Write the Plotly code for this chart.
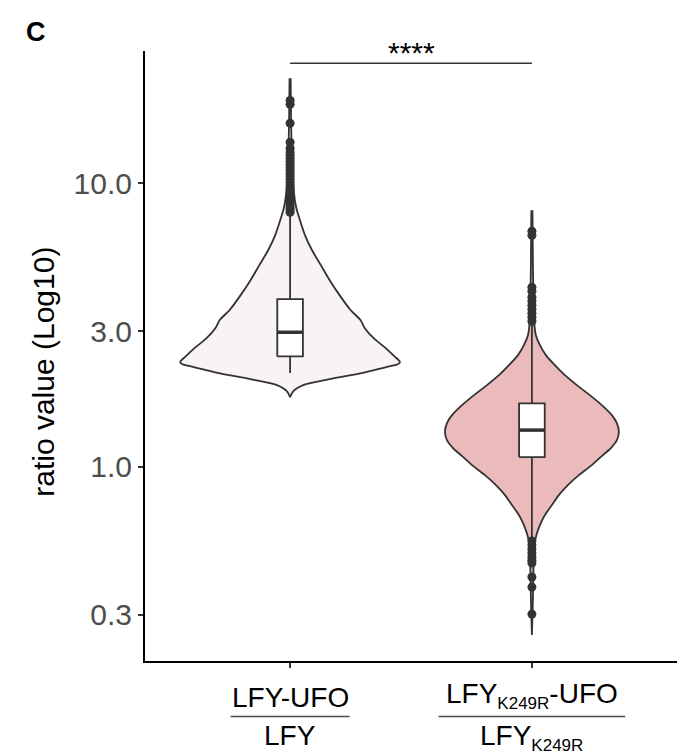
import math
import plotly.graph_objects as go

# ---------------- data ----------------
cat_pos = [1, 2]
SUB = '<sub><span style="font-size:17px">K249R</span></sub>'
numerators = ["LFY-UFO", "LFY" + SUB + "-UFO"]
denominators = ["LFY", "LFY" + SUB]

# violin outlines: value (top -> bottom) and relative density (1 = widest)
v1_values = [23.45, 16.68, 12.05, 9.45, 8.23, 7.40, 6.55, 5.80, 5.14, 4.55, 4.03,
             3.57, 3.29, 3.08, 2.84, 2.62, 2.45, 2.34, 2.30, 2.263, 2.208, 2.138,
             2.036, 1.940, 1.847, 1.760]
v1_density = [0.005, 0.009, 0.018, 0.032, 0.055, 0.09, 0.136, 0.2, 0.28, 0.36, 0.45,
              0.55, 0.64, 0.68, 0.76, 0.87, 0.95, 1.0, 0.98, 0.91, 0.80, 0.65,
              0.36, 0.12, 0.03, 0.0]

v2_values = [8.03, 5.35, 3.87, 3.158, 2.911, 2.684, 2.475, 2.282, 2.104, 1.940, 1.789,
             1.649, 1.520, 1.424, 1.324, 1.241, 1.163, 1.090, 1.013, 0.934, 0.861,
             0.794, 0.732, 0.675, 0.622, 0.574, 0.529, 0.432, 0.3385, 0.2548]
v2_density = [0.005, 0.009, 0.014, 0.023, 0.036, 0.073, 0.127, 0.209, 0.30, 0.409, 0.527,
              0.636, 0.727, 0.773, 0.791, 0.773, 0.718, 0.636, 0.545, 0.427, 0.327,
              0.245, 0.182, 0.118, 0.073, 0.041, 0.023, 0.014, 0.009, 0.0]

# box statistics
q1 = [2.45, 1.081]
median = [2.98, 1.346]
q3 = [3.90, 1.672]
lowerfence = [2.14, 0.562]
upperfence = [7.8, 3.21]

# outliers
outliers_1 = [19.6, 19.0, 16.28, 13.95, 13.29, 12.86, 12.55, 12.25, 11.96, 11.67, 11.39,
              11.11, 10.85, 10.59, 10.33, 10.08, 9.84, 9.60, 9.37, 9.15, 8.93, 8.71,
              8.50, 8.30, 8.10, 7.90]
outliers_2 = [6.77, 6.55, 4.30, 4.16, 3.96, 3.84, 3.71, 3.59, 3.48, 3.37, 3.26,
              0.547, 0.529, 0.512, 0.496, 0.480, 0.468, 0.457, 0.408, 0.376, 0.302]

y_ticks = [0.3, 1.0, 3.0, 10.0]
y_tick_labels = ["0.3", "1.0", "3.0", "10.0"]
y_title = "ratio value (Log10)"
sig_label = "****"
sig_y = 26.5
panel_label = "C"

# ---------------- styling ----------------
FONT = "Liberation Sans, Arial, sans-serif"
OUTLINE = "#333333"
fills = ["#FAF3F3", "#EBBABA"]
MAX_HALF = 0.4545      # half-width (x units) of the widest violin
BOX_HALF = 0.053

fig = go.Figure()

# violins
violins = [(v1_values, v1_density), (v2_values, v2_density)]
for pos, (vals, dens), fc in zip(cat_pos, violins, fills):
    xl = [pos - d * MAX_HALF for d in dens]
    xr = [pos + d * MAX_HALF for d in dens]
    xs = xl + xr[::-1]
    ys = list(vals) + list(vals)[::-1]
    fig.add_trace(go.Scatter(x=xs, y=ys, mode="lines", fill="toself", fillcolor=fc,
                             line=dict(color=OUTLINE, width=1.8, shape="spline", smoothing=0.8),
                             hoverinfo="skip"))

# boxplots (whiskers, box, median)
for i, pos in enumerate(cat_pos):
    fig.add_trace(go.Scatter(x=[pos, pos, None, pos, pos],
                             y=[upperfence[i], q3[i], None, q1[i], lowerfence[i]],
                             mode="lines", line=dict(color=OUTLINE, width=1.8),
                             hoverinfo="skip"))
    fig.add_trace(go.Scatter(x=[pos - BOX_HALF, pos + BOX_HALF, pos + BOX_HALF, pos - BOX_HALF, pos - BOX_HALF],
                             y=[q1[i], q1[i], q3[i], q3[i], q1[i]],
                             mode="lines", fill="toself", fillcolor="white",
                             line=dict(color=OUTLINE, width=1.8), hoverinfo="skip"))
    fig.add_trace(go.Scatter(x=[pos - BOX_HALF, pos + BOX_HALF], y=[median[i], median[i]],
                             mode="lines", line=dict(color=OUTLINE, width=3.5), hoverinfo="skip"))

# outliers
for pos, outs in zip(cat_pos, [outliers_1, outliers_2]):
    fig.add_trace(go.Scatter(x=[pos] * len(outs), y=outs, mode="markers",
                             marker=dict(color=OUTLINE, size=9), hoverinfo="skip"))

# significance bar
fig.add_trace(go.Scatter(x=cat_pos, y=[sig_y, sig_y], mode="lines",
                         line=dict(color=OUTLINE, width=1.5), hoverinfo="skip"))
fig.add_annotation(x=sum(cat_pos) / 2, y=math.log10(sig_y), xref="x", yref="y",
                   text=sig_label, showarrow=False, xanchor="center", yanchor="bottom", yshift=-8,
                   font=dict(family=FONT, size=30, color="black"))

# x category labels as fractions
line_half = [0.246, 0.386]
for pos, num, den, lh in zip(cat_pos, numerators, denominators, line_half):
    fig.add_annotation(x=pos, y=-0.088, xref="x", yref="paper", text=num, showarrow=False,
                       xanchor="center", yanchor="bottom",
                       font=dict(family=FONT, size=28, color="black"))
    fig.add_annotation(x=pos, y=-0.093, xref="x", yref="paper", text=den, showarrow=False,
                       xanchor="center", yanchor="top",
                       font=dict(family=FONT, size=28, color="black"))
    fig.add_shape(type="line", xref="x", yref="paper", x0=pos - lh, x1=pos + lh,
                  y0=-0.091, y1=-0.091, line=dict(color="#4D4D4D", width=1.3))

# y title and panel label
fig.add_annotation(x=-0.19, y=0.474, xref="paper", yref="paper", text=y_title,
                   textangle=-90, showarrow=False, xanchor="center", yanchor="middle",
                   font=dict(family=FONT, size=30, color="black"))
fig.add_annotation(x=-0.205, y=1.031, xref="paper", yref="paper", text="<b>" + panel_label + "</b>",
                   showarrow=False, xanchor="center", yanchor="middle",
                   font=dict(family=FONT, size=27, color="black"))

fig.update_layout(
    width=695, height=755, showlegend=False,
    margin=dict(l=145, r=18, t=51, b=94),
    plot_bgcolor="white", paper_bgcolor="white",
    font=dict(family=FONT),
    xaxis=dict(range=[0.4, 2.6], tickvals=cat_pos, showticklabels=False, ticks="outside",
               ticklen=5, tickwidth=1.5, tickcolor=OUTLINE, showline=True, linecolor="black",
               linewidth=2, showgrid=False, zeroline=False),
    yaxis=dict(type="log", range=[-0.6855, 1.4665], tickvals=y_ticks, ticktext=y_tick_labels,
               ticks="outside", ticklen=5, tickwidth=1.5, tickcolor=OUTLINE, showline=True,
               linecolor="black", linewidth=2, showgrid=False, zeroline=False,
               tickfont=dict(family=FONT, size=30, color="#4D4D4D")),
)

fig.write_html("out.html")
